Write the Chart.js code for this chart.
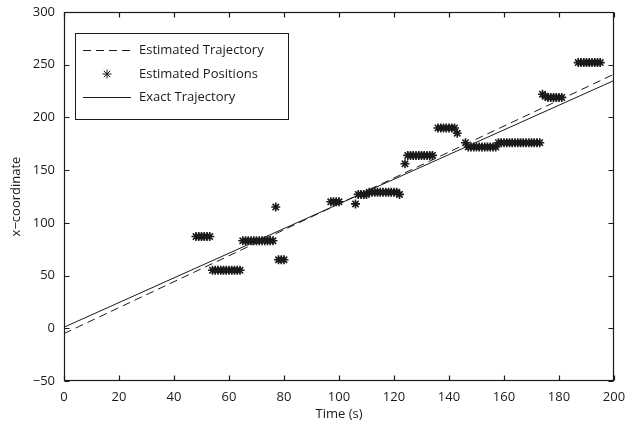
<!DOCTYPE html>
<html>
<head>
<meta charset="utf-8">
<script src="https://cdn.jsdelivr.net/npm/chart.js@4"></script>
<style>
  html, body { margin: 0; padding: 0; background: #fff; }
  #wrap { width: 627px; height: 426px; }
</style>
</head>
<body>
<div id="wrap"><canvas id="traj"></canvas></div>
<script>
// ---- data ----
const posTimes = [
  48, 49, 50, 51, 52, 53,
  54, 55, 56, 57, 58, 59, 60, 61, 62, 63, 64,
  65, 66, 67, 68, 69, 70, 71, 72, 73, 74, 75, 76,
  77, 78, 79, 80,
  97, 98, 99, 100,
  106, 107, 108, 109, 110, 111, 112, 113, 114, 115, 116, 117, 118, 119, 120, 121, 122,
  124, 125, 126, 127, 128, 129, 130, 131, 132, 133, 134,
  136, 137, 138, 139, 140, 141, 142, 143,
  146, 147, 148, 149, 150, 151, 152, 153, 154, 155, 156, 157,
  158, 159, 160, 161, 162, 163, 164, 165, 166, 167, 168, 169, 170, 171, 172, 173,
  174, 175, 176, 177, 178, 179, 180, 181,
  187, 188, 189, 190, 191, 192, 193, 194, 195
];
const posValues = [
  87, 87, 87, 87, 87, 87,
  55, 55, 55, 55, 55, 55, 55, 55, 55, 55, 55,
  83, 83, 83, 83, 83, 83, 83, 83, 83, 83, 83, 83,
  115, 65, 65, 65,
  120, 120, 120, 120,
  118, 127, 127, 127, 127, 129, 129, 129, 129, 129, 129, 129, 129, 129, 129, 129, 127,
  156, 164, 164, 164, 164, 164, 164, 164, 164, 164, 164,
  190, 190, 190, 190, 190, 190, 190, 185,
  176, 172, 172, 172, 172, 172, 172, 172, 172, 172, 172, 172,
  176, 176, 176, 176, 176, 176, 176, 176, 176, 176, 176, 176, 176, 176, 176, 176,
  222, 220, 219, 219, 219, 219, 219, 219,
  252, 252, 252, 252, 252, 252, 252, 252, 252
];
const estTimes = [0, 200];
const estValues = [-5, 241];
const exactTimes = [0, 200];
const exactValues = [1, 235];

const xTicks = [0, 20, 40, 60, 80, 100, 120, 140, 160, 180, 200];
const yTicks = [-50, 0, 50, 100, 150, 200, 250, 300];

const FONT = 'Open Sans';
const INK = '#1a1a1a';

const toXY = (xs, ys) => xs.map((x, i) => ({ x: x, y: ys[i] }));
const fmt = v => (v < 0 ? '\u2212' + Math.abs(v) : String(v));

// ---- box frame with inward ticks on all four sides ----
const framePlugin = {
  id: 'frame',
  afterDraw(chart) {
    const { ctx, chartArea: a, scales } = chart;
    const L = Math.round(a.left) + 0.5, R = Math.round(a.right) - 0.5;
    const T = Math.round(a.top) + 0.5, B = Math.round(a.bottom) - 0.5;
    const tick = 5;
    ctx.save();
    ctx.strokeStyle = INK;
    ctx.lineWidth = 1.2;
    ctx.strokeRect(L, T, R - L, B - T);
    ctx.beginPath();
    xTicks.forEach(v => {
      const px = Math.round(scales.x.getPixelForValue(v)) + 0.5;
      ctx.moveTo(px, B); ctx.lineTo(px, B - tick);
      ctx.moveTo(px, T); ctx.lineTo(px, T + tick);
    });
    yTicks.forEach(v => {
      const py = Math.round(scales.y.getPixelForValue(v)) + 0.5;
      ctx.moveTo(L, py); ctx.lineTo(L + tick, py);
      ctx.moveTo(R, py); ctx.lineTo(R - tick, py);
    });
    ctx.stroke();
    ctx.restore();
  }
};

// ---- boxed legend in the upper left of the plot ----
const legendBox = {
  id: 'legendBox',
  afterDraw(chart) {
    const { ctx } = chart;
    const x0 = 75.5, y0 = 33.5, w = 213, h = 86;
    const rows = [50, 74, 97];
    ctx.save();
    ctx.fillStyle = '#fff';
    ctx.fillRect(x0, y0, w, h);
    ctx.strokeStyle = INK;
    ctx.lineWidth = 1;
    ctx.strokeRect(x0, y0, w, h);

    // dashed sample
    ctx.setLineDash([8, 5]);
    ctx.beginPath();
    ctx.moveTo(83, rows[0] + 0.5); ctx.lineTo(131, rows[0] + 0.5);
    ctx.stroke();
    ctx.setLineDash([]);

    // star sample
    const ds = chart.data.datasets[1];
    Chart.helpers.drawPoint(ctx, {
      pointStyle: 'star', radius: ds.pointRadius, borderWidth: ds.pointBorderWidth
    }, 107, rows[1]);

    // solid sample
    ctx.beginPath();
    ctx.moveTo(83, rows[2] + 0.5); ctx.lineTo(131, rows[2] + 0.5);
    ctx.stroke();

    ctx.fillStyle = INK;
    ctx.font = '13px "' + FONT + '"';
    ctx.textBaseline = 'middle';
    ['Estimated Trajectory', 'Estimated Positions', 'Exact Trajectory'].forEach((t, i) => {
      ctx.fillText(t, 139, rows[i]);
    });
    ctx.restore();
  }
};

new Chart(document.getElementById('traj'), {
  type: 'scatter',
  data: {
    datasets: [
      {
        label: 'Estimated Trajectory',
        data: toXY(estTimes, estValues),
        showLine: true,
        borderColor: INK,
        borderWidth: 1,
        borderDash: [8, 5],
        pointRadius: 0
      },
      {
        label: 'Estimated Positions',
        data: toXY(posTimes, posValues),
        showLine: false,
        pointStyle: 'star',
        pointRadius: 4.5,
        pointBorderWidth: 1.6,
        borderColor: INK,
        backgroundColor: INK
      },
      {
        label: 'Exact Trajectory',
        data: toXY(exactTimes, exactValues),
        showLine: true,
        borderColor: INK,
        borderWidth: 1,
        pointRadius: 0
      }
    ]
  },
  options: {
    responsive: true,
    maintainAspectRatio: false,
    animation: false,
    layout: { padding: { top: 12, right: 13, bottom: 0, left: 0 } },
    plugins: {
      legend: { display: false },
      tooltip: { enabled: false }
    },
    scales: {
      x: {
        type: 'linear',
        min: 0, max: 200,
        afterBuildTicks: s => { s.ticks = xTicks.map(v => ({ value: v })); },
        afterFit: s => { s.height = 45; s.paddingLeft = 0; s.paddingRight = 0; },
        grid: { display: false, drawTicks: false },
        border: { display: false },
        ticks: {
          color: INK, padding: 8, maxRotation: 0,
          font: { family: FONT, size: 13 },
          callback: v => fmt(v)
        },
        title: {
          display: true, text: 'Time (s)', color: INK, padding: { top: 0 },
          font: { family: FONT, size: 13 }
        }
      },
      y: {
        type: 'linear',
        min: -50, max: 300,
        afterBuildTicks: s => { s.ticks = yTicks.map(v => ({ value: v })); },
        afterFit: s => { s.width = 64; s.paddingTop = 0; s.paddingBottom = 0; },
        grid: { display: false, drawTicks: false },
        border: { display: false },
        ticks: {
          color: INK, padding: 9,
          font: { family: FONT, size: 13 },
          callback: v => fmt(v)
        },
        title: {
          display: true, text: 'x\u2212coordinate', color: INK, padding: { top: 8, bottom: 4 },
          font: { family: FONT, size: 13 }
        }
      }
    }
  },
  plugins: [framePlugin, legendBox]
});
</script>
</body>
</html>
